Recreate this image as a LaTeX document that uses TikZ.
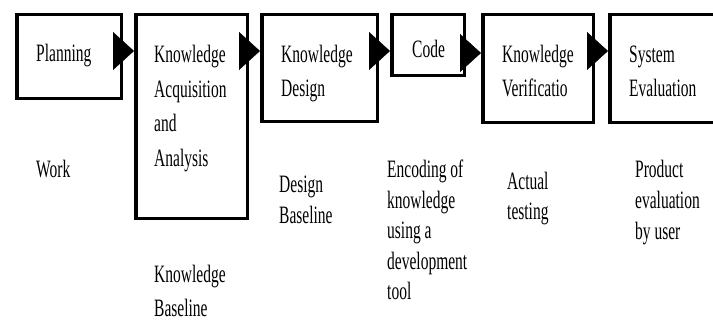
\documentclass[tikz,border=0pt]{standalone}
\usepackage{fontspec}
\setmainfont[FakeStretch=0.62]{Liberation Serif}
\usetikzlibrary{arrows.meta,calc}
\begin{document}
\begin{tikzpicture}[x=1pt,y=-1pt,
  box/.style={draw=black,line width=3.5pt,rectangle,anchor=north west,inner sep=0pt},
  txt/.style={anchor=base west,inner sep=0pt,align=left,font=\fontsize{25}{34}\selectfont},
  low/.style={anchor=base west,inner sep=0pt,align=left,font=\fontsize{25}{31}\selectfont},
  arr/.style={line width=0.4pt,-{Triangle[length=21pt,width=38pt]}}]
\useasboundingbox (0,0) rectangle (713,320);
\clip (0,0) rectangle (713,320);
% boxes
\node[box,minimum width=104.5pt,minimum height=84pt] (plan) at (15,13) {};
\node[box,minimum width=111.5pt,minimum height=204pt] (kacq) at (134,13) {};
\node[box,minimum width=115.5pt,minimum height=107pt] (kdes) at (260,13) {};
\node[box,minimum width=72.5pt,minimum height=61pt] (code) at (390,13) {};
\node[box,minimum width=110.5pt,minimum height=108pt] (kver) at (481,13) {};
\node[box,minimum width=130pt,minimum height=108pt] (seval) at (608,13) {};
% box texts (anchor at baseline of last line)
\node[txt] (tp) at (36,62) {Planning};
\node[txt,font=\fontsize{25}{34.5}\selectfont] (tka) at (154,166.5) {Knowledge\\Acquisition\\and\\Analysis};
\node[txt] (tkd) at (281,97) {Knowledge\\Design};
\node[txt] (tc) at (412,58) {Code};
\node[txt] (tkv) at (502,97) {Knowledge\\Verificatio};
\node[txt] (tse) at (629,97) {System\\Evaluation};
% lower texts
\node[low] (lw) at (36,178) {Work};
\node[low,font=\fontsize{25}{34}\selectfont] (lkb) at (154,317) {Knowledge\\Baseline};
\node[low] (ldb) at (279,224) {Design\\Baseline};
\node[low,font=\fontsize{25}{30.5}\selectfont] (le) at (387,300) {Encoding of\\knowledge\\using a\\development\\tool};
\node[low,font=\fontsize{25}{30}\selectfont] (la) at (507,220) {Actual\\testing};
\node[low] (lpe) at (635,240) {Product\\evaluation\\by user};
% arrows
\draw[arr] ($(plan.north east)+(-10,38)$) -- ($(kacq.north west)+(0,38)$);
\draw[arr] ($(kacq.north east)+(-10,38)$) -- ($(kdes.north west)+(0,38)$);
\draw[arr] ($(kdes.north east)+(-10,38)$) -- ($(code.north west)+(0,38)$);
\draw[arr] ($(code.north east)+(-6,40)$) -- ($(kver.north west)+(0,40)$);
\draw[arr] ($(kver.north east)+(-8,38)$) -- ($(seval.north west)+(0,38)$);
\end{tikzpicture}
\end{document}
